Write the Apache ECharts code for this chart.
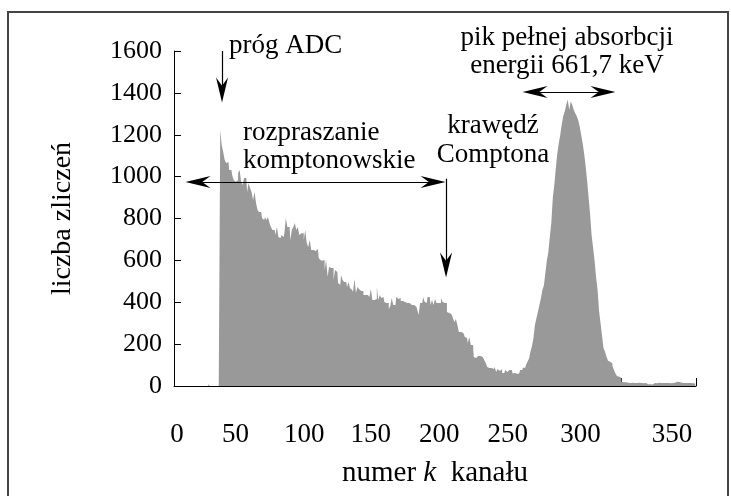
<!DOCTYPE html>
<html>
<head>
<meta charset="utf-8">
<script src="https://cdn.jsdelivr.net/npm/echarts@6/dist/echarts.min.js"></script>
<style>
  html, body { margin: 0; padding: 0; background: #fff; }
  #chart { width: 731px; height: 496px; }
</style>
</head>
<body>
<div id="chart"></div>
<script>
// channel counts, one value per channel (0..349), split by spectrum region
const belowThreshold = [0,0,0,0,0,0,0,0,0,0, 0,0,0,0,0,0,0,0,0,0, 0,0,0,10,0,0,0,0,0,0, 0];
const comptonContinuum = [
  1223,1150,1118,1080,1065,1070,1032,1032,1008,984,
  975,984,1017,1032,975,960,993,993,927,970,
  946,927,888,927,874,841,831,831,802,793,
  807,793,807,778,760,745,745,721,760,712,
  707,721,712,730,802,760,760,697,745,760,
  778,745,760,721,730,730,697,745,683,664,
  697,650,650,645,654,654,612,602,598,602,
  554,602,522,570,564,564,507,554,545,492,
  483,530,507,497,497,473,497,468,459,449,
  511,444,473,463,454,454,435,435,435,444,
  425,463,411,411,416,473,411,435,420,425,
  401,396,396,368,382,420,387,387,425,416,
  420,406,406,401,402,396,396,387,387,387,
  378,378,368,339,396,396,425,402,396,425,
  425,387,411,387,416,396,396,396,420,402,
  396,396
];
const comptonEdge = [
  354,349,344,339,325,306,320,291,258,258,
  253,244,234,229,205,234,196,196,139,134,
  143,139,143,139,139,124,110,91,86,86,
  91,81,91,67,81,72,81,62,62,76,
  67,76,67,76
];
const photopeak = [
  60,62,58,64,60,76,76,87,87,100,
  116,130,164,190,228,291,323,355,387,419,
  459,480,540,600,640,714,780,900,960,1040,
  1110,1160,1200,1250,1290,1311,1343,1367,1319,1359,
  1343,1320,1303,1290,1270,1240,1200,1160,1110,1050,
  980,900,820,720,660,600,520,460,360,300,
  240,180,164,140,121,116,108,96,76,60,
  48,44,40,20
];
const tail = [
  18,18,16,15,14,14,15,14,13,14,15,14,14,13,14,14,
  8,6,8,7,8,
  14,13,14,15,14,13,14,14,15,14,13,14,14,15,14,
  20,19,20,
  15,14,13,14,14,15,14,13,14,12
];

const xTicks = [0, 50, 100, 150, 200, 250, 300, 350];
const yTicks = [0, 200, 400, 600, 800, 1000, 1200, 1400, 1600];

// annotation arrows in data coordinates [channel, count]
const arrowAdc = [[32.2, 1600], [32.2, 1414]];
const arrowCompton = [[16.1, 974], [173.7, 974]];
const arrowEdge = [[182.4, 990], [182.4, 578]];
const arrowPeak = [[242.1, 1404], [287.6, 1404]];

const counts = belowThreshold.concat(comptonContinuum, comptonEdge, photopeak, tail);
const seriesData = counts.map((v, i) => [i + 0.5, v]);

const FONT = '"Liberation Serif", "Times New Roman", serif';
const arrowHead = 'path://M5,0 L10,24 L5,16 L0,24 Z';

// the printed x tick labels sit left of their ticks in the original figure;
// horizontal nudge (px) for each label
const xLabelShift = { 0: 3, 50: -13, 100: -19, 150: -27, 200: -33, 250: -39, 300: -41, 350: -24 };

const xLabelRich = {};
xTicks.forEach(function (t) {
  const s = xLabelShift[t];
  xLabelRich['s' + t] = {
    fontFamily: FONT, fontSize: 27, color: '#000',
    padding: s >= 0 ? [0, 0, 0, 2 * s] : [0, -2 * s, 0, 0]
  };
});

function arrow(pts, both) {
  return [
    { coord: pts[0], symbol: both ? arrowHead : 'none' },
    { coord: pts[1], symbol: arrowHead }
  ];
}

function label(text, x, y, align) {
  return {
    type: 'text',
    x: x,
    y: y,
    style: {
      text: text,
      font: '27px ' + FONT,
      fill: '#000',
      align: align || 'left',
      verticalAlign: 'middle'
    }
  };
}

const chart = echarts.init(document.getElementById('chart'));
chart.setOption({
  animation: false,
  backgroundColor: '#fff',
  grid: { left: 174, right: 35, top: 51, bottom: 110, containLabel: false },
  xAxis: {
    type: 'value',
    min: xTicks[0],
    max: xTicks[xTicks.length - 1],
    interval: 50,
    name: 'numer {i|k}  kanału',
    nameLocation: 'middle',
    nameGap: 73,
    nameTextStyle: {
      fontFamily: FONT, fontSize: 29, color: '#000',
      rich: { i: { fontFamily: FONT, fontSize: 29, fontStyle: 'italic', color: '#000' } }
    },
    axisLine: { lineStyle: { color: '#000', width: 1 } },
    axisTick: { inside: true, length: 8, lineStyle: { color: '#000' } },
    axisLabel: {
      fontFamily: FONT, fontSize: 27, color: '#000', margin: 35,
      formatter: function (v) { return '{s' + v + '|' + v + '}'; },
      rich: xLabelRich
    },
    splitLine: { show: false }
  },
  yAxis: {
    type: 'value',
    min: yTicks[0],
    max: yTicks[yTicks.length - 1],
    interval: 200,
    name: 'liczba zliczeń',
    nameLocation: 'middle',
    nameGap: 97,
    nameTextStyle: { fontFamily: FONT, fontSize: 28, color: '#000' },
    axisLine: { show: true, lineStyle: { color: '#000', width: 1 } },
    axisTick: { show: true, inside: true, length: 7, lineStyle: { color: '#000' } },
    axisLabel: {
      fontFamily: FONT, fontSize: 26, color: '#000', margin: 12,
      formatter: function (v) { return String(v); }
    },
    splitLine: { show: false }
  },
  series: [{
    type: 'line',
    step: 'middle',
    data: seriesData,
    showSymbol: false,
    symbol: 'none',
    lineStyle: { width: 0 },
    areaStyle: { color: '#999999', opacity: 1 },
    silent: true,
    markLine: {
      silent: true,
      symbolSize: [12, 25],
      label: { show: false },
      lineStyle: { color: '#000', width: 1.2, type: 'solid' },
      emphasis: { disabled: true },
      data: [
        arrow(arrowAdc, false),
        arrow(arrowCompton, true),
        arrow(arrowEdge, false),
        arrow(arrowPeak, true)
      ]
    }
  }],
  graphic: [
    {
      type: 'rect',
      shape: { x: 8, y: 12, width: 720, height: 500 },
      style: { fill: 'none', stroke: '#444', lineWidth: 2 },
      silent: true
    },
    label('próg ADC', 229, 46),
    label('rozpraszanie', 243, 133),
    label('komptonowskie', 243, 161),
    label('krawędź', 493, 126, 'center'),
    label('Comptona', 493, 155, 'center'),
    label('pik pełnej absorbcji', 567, 38, 'center'),
    label('energii 661,7 keV', 567, 66, 'center')
  ]
});
</script>
</body>
</html>
